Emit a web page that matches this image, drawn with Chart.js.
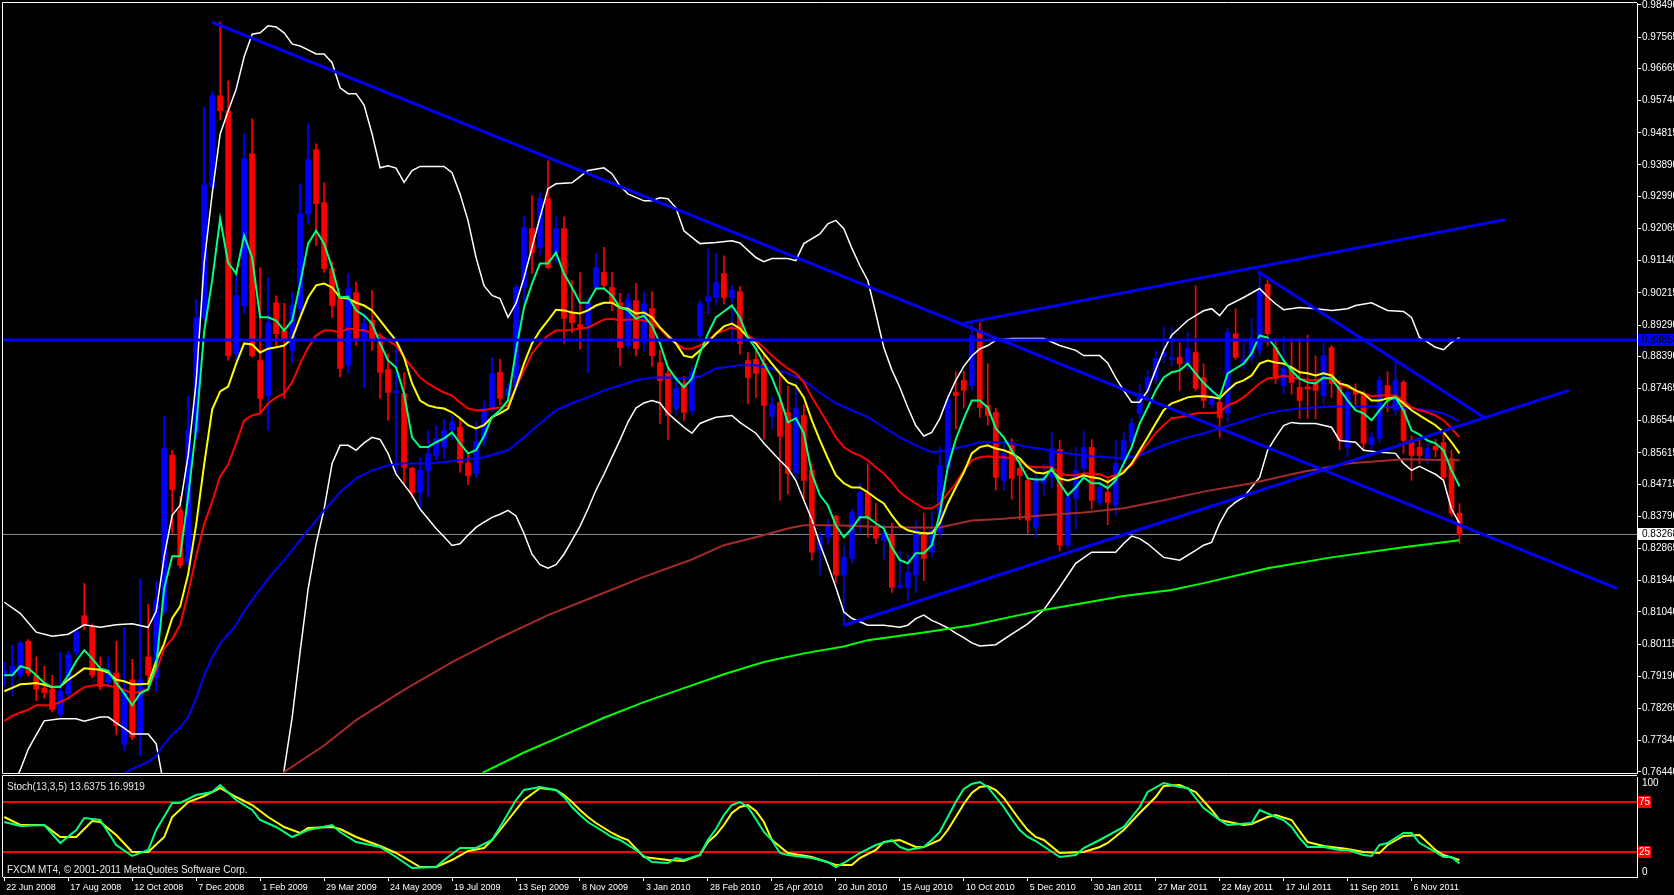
<!DOCTYPE html>
<html>
<head>
<meta charset="utf-8">
<script src="https://cdn.jsdelivr.net/npm/chart.js@4.4.1/dist/chart.umd.min.js"></script>
<style>
  html, body { margin: 0; padding: 0; background: #000; }
  #wrap { position: relative; width: 1674px; height: 895px; background: #000; overflow: hidden; }
  canvas { position: absolute; left: 0; }
  #main { top: 0; }
  #stoch { top: 775px; }
</style>
</head>
<body>
<div id="wrap">
  <canvas id="main" width="1674" height="775"></canvas>
  <canvas id="stoch" width="1674" height="120"></canvas>
</div>
<script>
// ---- weekly candles, bar 0 = 22 Jun 2008 ----
const opens = [.7920,.7922,.7922,.8020,.7922,.7885,.7882,.7810,.7869,.7988,
  .8093,.8060,.7942,.7902,.7928,.7724,.7909,.7751,.7975,.7915,
  .8106,.8555,.8396,.8245,.8620,.8950,.9326,.9588,.9545,.8847,
  .8985,.9421,.8827,.8726,.8993,.8913,.8856,.8976,.9249,.9433,
  .9281,.9091,.9008,.8813,.9022,.8890,.8942,.8893,.8801,.8734,
  .8732,.8517,.8448,.8511,.8554,.8578,.8626,.8635,.8533,.8502,
  .8600,.8692,.8793,.8726,.8750,.9037,.9206,.9152,.9292,.9137,
  .9206,.8962,.8930,.8928,.9037,.9080,.9037,.8993,.8870,.8999,
  .8879,.8976,.8821,.8790,.8689,.8761,.8683,.8899,.8996,.9008,
  .9077,.9008,.9025,.8827,.8830,.8818,.8666,.8707,.8678,.8505,
  .8669,.8511,.8281,.8319,.8379,.8210,.8258,.8376,.8445,.8350,
  .8310,.8325,.8175,.8175,.8210,.8333,.8276,.8333,.8520,.8735,
  .8770,.8755,.8913,.8698,.8678,.8482,.8583,.8517,.8482,.8347,
  .8474,.8491,.8571,.8296,.8431,.8517,.8577,.8419,.8448,.8411,
  .8540,.8592,.8675,.8741,.8775,.8840,.8830,.8836,.8818,.8850,
  .8778,.8701,.8707,.8675,.8904,.8819,.8836,.8856,.9046,.8864,
  .8755,.8807,.8750,.8752,.8761,.8726,.8864,.8755,.8577,.8740,
  .8732,.8586,.8603,.8755,.8684,.8764,.8597,.8577,.8548,.8580,
  .8591,.8545,.8388];
const highs = [.7960,.8008,.8020,.8025,.7975,.7948,.7922,.7988,.7990,.8055,
  .8186,.8070,.7975,.7975,.8020,.8060,.7968,.8199,.8126,.8192,
  .8667,.8568,.8436,.8726,.9003,.9556,.9600,.9800,.9631,.9075,
  .9478,.9522,.9094,.9065,.9013,.8991,.9022,.9335,.9507,.9450,
  .9338,.9110,.9010,.9077,.9053,.8962,.9028,.8905,.8847,.8864,
  .8792,.8520,.8548,.8626,.8640,.8658,.8667,.8660,.8562,.8650,
  .8710,.8836,.8830,.8760,.9045,.9243,.9301,.9310,.9401,.9240,
  .9240,.9057,.9080,.9008,.9135,.9152,.9080,.9020,.9020,.9049,
  .9025,.9025,.8856,.8810,.8780,.8781,.8810,.9000,.9148,.9135,
  .9128,.9043,.9040,.8850,.8856,.8847,.8722,.8792,.8753,.8764,
  .8700,.8530,.8333,.8370,.8382,.8296,.8399,.8474,.8531,.8416,
  .8356,.8360,.8281,.8270,.8367,.8388,.8390,.8580,.8730,.8795,
  .8797,.8936,.8936,.8818,.8690,.8586,.8603,.8540,.8491,.8520,
  .8530,.8620,.8597,.8440,.8580,.8623,.8600,.8480,.8490,.8597,
  .8620,.8660,.8760,.8798,.8856,.8922,.8922,.8879,.8908,.9042,
  .8818,.8750,.8720,.8920,.8976,.8880,.8950,.9085,.9060,.8890,
  .8896,.8890,.8890,.8900,.8840,.8880,.8870,.8770,.8750,.8760,
  .8740,.8620,.8780,.8795,.8821,.8770,.8610,.8600,.8590,.8600,
  .8620,.8570,.8416];
const lows = [.7890,.7863,.7915,.7920,.7849,.7856,.7816,.7803,.7860,.7980,
  .8054,.7915,.7880,.7895,.7751,.7704,.7737,.7691,.7876,.7876,
  .8100,.8331,.8230,.8240,.8600,.8940,.9300,.9520,.8827,.8827,
  .8962,.8837,.8675,.8626,.8870,.8718,.8821,.8960,.9220,.9157,
  .9080,.8950,.8780,.8790,.8870,.8749,.8856,.8718,.8655,.8502,
  .8474,.8432,.8402,.8434,.8540,.8547,.8600,.8505,.8470,.8490,
  .8580,.8680,.8700,.8710,.8740,.8985,.9077,.9130,.9090,.9110,
  .8877,.8907,.8860,.8792,.9030,.9030,.8970,.8813,.8860,.8840,
  .8853,.8810,.8646,.8600,.8670,.8655,.8670,.8880,.8960,.8985,
  .8990,.8879,.8845,.8703,.8720,.8600,.8630,.8425,.8443,.8490,
  .8425,.8253,.8210,.8300,.8190,.8066,.8245,.8333,.8319,.8300,
  .8253,.8160,.8170,.8137,.8160,.8194,.8260,.8320,.8500,.8630,
  .8690,.8740,.8663,.8640,.8454,.8454,.8428,.8369,.8330,.8320,
  .8440,.8460,.8280,.8287,.8340,.8500,.8400,.8410,.8355,.8380,
  .8520,.8570,.8660,.8720,.8760,.8820,.8810,.8741,.8800,.8740,
  .8690,.8690,.8606,.8650,.8830,.8800,.8820,.8840,.8870,.8760,
  .8730,.8730,.8660,.8660,.8660,.8700,.8720,.8570,.8550,.8700,
  .8570,.8570,.8590,.8680,.8670,.8560,.8482,.8530,.8530,.8550,
  .8480,.8380,.8302];
const closes = [.7935,.7948,.8014,.7928,.7882,.7872,.7823,.7876,.7981,.8047,
  .8067,.7922,.7889,.7935,.7777,.7876,.7744,.7909,.7922,.8139,
  .8574,.8456,.8238,.8627,.8950,.9332,.9588,.9545,.8841,.9014,
  .9407,.8841,.8718,.8936,.8904,.8884,.8985,.9249,.9404,.9278,
  .9091,.8985,.8804,.9034,.8884,.8933,.8884,.8793,.8735,.8740,
  .8520,.8448,.8511,.8560,.8603,.8626,.8650,.8533,.8496,.8594,
  .8689,.8790,.8718,.8747,.9037,.9209,.9137,.9292,.9094,.9206,
  .8948,.8936,.8922,.8993,.9094,.9043,.8993,.8864,.9004,.8861,
  .8990,.8841,.8769,.8669,.8747,.8678,.8793,.8990,.9010,.9051,
  .9008,.9030,.8876,.8778,.8790,.8698,.8701,.8609,.8502,.8689,
  .8482,.8276,.8319,.8353,.8210,.8261,.8390,.8448,.8373,.8316,
  .8330,.8175,.8181,.8218,.8339,.8258,.8339,.8525,.8715,.8726,
  .8741,.8899,.8692,.8669,.8491,.8560,.8488,.8497,.8368,.8482,
  .8491,.8574,.8296,.8434,.8511,.8577,.8425,.8462,.8419,.8531,
  .8597,.8646,.8732,.8778,.8833,.8850,.8836,.8818,.8861,.8747,
  .8712,.8721,.8663,.8907,.8836,.8830,.8890,.9031,.8904,.8775,
  .8804,.8764,.8712,.8745,.8741,.8841,.8761,.8597,.8735,.8730,
  .8589,.8606,.8770,.8721,.8770,.8597,.8554,.8554,.8574,.8570,
  .8491,.8388,.83268];

// ---- moving averages, one value per bar ----
const maFast = [.7922,.7922,.7948,.7942,.7922,.7900,.7888,.7888,.7922,.7963,
  .7994,.7970,.7942,.7935,.7900,.7870,.7836,.7870,.7882,.7948,
  .8172,.8264,.8264,.8436,.8635,.8910,.9057,.9235,.9108,.9077,
  .9186,.9123,.8951,.8951,.8942,.8913,.8942,.9048,.9163,.9200,
  .9163,.9094,.9008,.9011,.8971,.8956,.8933,.8876,.8827,.8807,
  .8732,.8606,.8578,.8578,.8592,.8603,.8620,.8589,.8560,.8569,
  .8610,.8664,.8684,.8712,.8856,.8979,.9048,.9106,.9106,.9137,
  .9077,.9037,.8993,.8993,.9034,.9034,.9014,.8979,.8971,.8947,
  .8956,.8927,.8876,.8807,.8775,.8750,.8775,.8847,.8904,.8951,
  .8968,.8985,.8951,.8893,.8861,.8818,.8778,.8720,.8649,.8661,
  .8618,.8502,.8440,.8411,.8353,.8319,.8344,.8376,.8376,.8359,
  .8344,.8290,.8253,.8244,.8273,.8273,.8296,.8388,.8520,.8600,
  .8660,.8712,.8712,.8692,.8632,.8606,.8569,.8531,.8488,.8485,
  .8485,.8517,.8474,.8440,.8462,.8491,.8474,.8474,.8460,.8482,
  .8531,.8578,.8646,.8692,.8741,.8778,.8793,.8798,.8818,.8790,
  .8762,.8741,.8721,.8790,.8804,.8818,.8847,.8899,.8893,.8864,
  .8827,.8798,.8775,.8764,.8761,.8778,.8775,.8744,.8712,.8684,
  .8675,.8655,.8684,.8712,.8721,.8684,.8626,.8614,.8597,.8589,
  .8569,.8511,.8465];
const maMid = [.7876,.7886,.7896,.7898,.7900,.7895,.7888,.7890,.7909,.7925,
  .7942,.7940,.7938,.7930,.7909,.7905,.7896,.7896,.7898,.7963,
  .8014,.8086,.8120,.8213,.8356,.8528,.8686,.8738,.8752,.8818,
  .8876,.8873,.8850,.8861,.8865,.8870,.8890,.8951,.9008,.9043,
  .9048,.9037,.9008,.9005,.8993,.8985,.8971,.8942,.8913,.8884,
  .8836,.8761,.8712,.8698,.8692,.8689,.8678,.8661,.8641,.8632,
  .8641,.8664,.8675,.8689,.8750,.8818,.8876,.8913,.8942,.8973,
  .8971,.8965,.8962,.8971,.8985,.8993,.8993,.8979,.8976,.8962,
  .8965,.8951,.8922,.8899,.8876,.8841,.8836,.8856,.8879,.8904,
  .8925,.8933,.8919,.8893,.8876,.8847,.8818,.8790,.8764,.8755,
  .8721,.8655,.8598,.8546,.8497,.8474,.8462,.8462,.8448,.8431,
  .8416,.8382,.8353,.8339,.8333,.8330,.8330,.8359,.8416,.8462,
  .8505,.8560,.8578,.8583,.8574,.8569,.8560,.8546,.8520,.8505,
  .8502,.8511,.8488,.8482,.8488,.8497,.8491,.8488,.8477,.8491,
  .8505,.8531,.8569,.8606,.8646,.8684,.8704,.8712,.8721,.8724,
  .8724,.8722,.8718,.8741,.8761,.8770,.8784,.8818,.8827,.8821,
  .8818,.8807,.8793,.8790,.8784,.8790,.8784,.8761,.8755,.8741,
  .8732,.8712,.8712,.8718,.8721,.8704,.8684,.8669,.8655,.8641,
  .8621,.8592,.8560];
const maSlow = [.7791,.7805,.7815,.7823,.7836,.7836,.7836,.7845,.7856,.7872,
  .7888,.7892,.7896,.7892,.7888,.7880,.7870,.7875,.7882,.7934,
  .8000,.8026,.8067,.8159,.8264,.8356,.8422,.8494,.8528,.8589,
  .8655,.8669,.8675,.8704,.8721,.8732,.8764,.8818,.8864,.8899,
  .8913,.8913,.8907,.8919,.8916,.8913,.8907,.8899,.8884,.8870,
  .8836,.8807,.8778,.8761,.8747,.8735,.8726,.8706,.8689,.8684,
  .8684,.8689,.8692,.8698,.8750,.8798,.8847,.8876,.8899,.8913,
  .8913,.8915,.8919,.8922,.8933,.8945,.8947,.8942,.8945,.8945,
  .8942,.8936,.8919,.8893,.8876,.8861,.8861,.8870,.8884,.8904,
  .8913,.8922,.8913,.8899,.8884,.8864,.8841,.8821,.8804,.8790,
  .8764,.8721,.8684,.8646,.8606,.8578,.8563,.8554,.8540,.8520,
  .8502,.8477,.8448,.8431,.8416,.8402,.8402,.8416,.8445,.8474,
  .8510,.8540,.8549,.8552,.8549,.8549,.8546,.8537,.8523,.8520,
  .8520,.8520,.8502,.8497,.8497,.8502,.8502,.8500,.8491,.8497,
  .8511,.8526,.8560,.8589,.8618,.8641,.8661,.8664,.8669,.8675,
  .8676,.8676,.8678,.8698,.8707,.8721,.8741,.8761,.8775,.8778,
  .8784,.8778,.8775,.8770,.8770,.8775,.8775,.8761,.8750,.8741,
  .8732,.8724,.8726,.8726,.8726,.8712,.8692,.8684,.8678,.8669,
  .8655,.8632,.8606];

// ---- slower lines read at selected bars: [bar, price] ----
const maBlue = [[12,.7600],[16,.7653],[18,.7673],[19,.7690],[20,.7725],[21,.7751],[22,.7771],
  [23,.7802],[24,.7856],[25,.7922],[26,.7974],[27,.8014],[28,.8040],[29,.8067],[30,.8106],
  [31,.8138],[33,.8200],[35,.8253],[38,.8339],[40,.8396],[42,.8448],[44,.8488],[46,.8511],
  [48,.8526],[50,.8531],[53,.8531],[56,.8537],[60,.8549],[63,.8569],[65,.8606],[67,.8646],
  [69,.8684],[71,.8704],[73,.8721],[75,.8741],[77,.8755],[79,.8770],[81,.8778],[83,.8778],
  [85,.8775],[87,.8780],[89,.8804],[92,.8813],[94,.8813],[96,.8804],[98,.8790],[100,.8770],
  [102,.8735],[104,.8704],[106,.8684],[108,.8664],[110,.8635],[112,.8606],[114,.8583],
  [116,.8563],[118,.8569],[120,.8580],[122,.8592],[124,.8592],[126,.8589],[128,.8578],
  [130,.8572],[132,.8563],[134,.8557],[136,.8552],[138,.8549],[140,.8546],[142,.8554],
  [144,.8574],[146,.8592],[148,.8606],[150,.8618],[152,.8632],[154,.8646],[156,.8661],
  [158,.8675],[160,.8684],[162,.8689],[164,.8692],[166,.8695],[172,.8695],[174,.8692],
  [176,.8689],[178,.8684],[180,.8675],[182,.8652]];
const maBrown = [[34,.7600],[35,.7644],[40,.7720],[44,.7793],[50,.7880],[56,.7960],[62,.8030],
  [68,.8095],[74,.8150],[80,.8205],[86,.8255],[90,.8296],[94,.8319],[98,.8344],[100,.8353],
  [104,.8353],[108,.8350],[113,.8347],[117,.8347],[121,.8367],[125,.8372],[130,.8382],
  [135,.8390],[140,.8402],[145,.8425],[150,.8450],[156,.8474],[162,.8505],[168,.8531],
  [175,.8543],[182,.8540]];
const maLong = [[59,.7620],[60,.7644],[65,.7700],[70,.7750],[75,.7800],[80,.7845],[85,.7885],
  [90,.7925],[95,.7960],[100,.7985],[105,.8005],[108,.8023],[115,.8045],[121,.8066],
  [130,.8110],[140,.8150],[146,.8167],[150,.8187],[158,.8230],[166,.8261],[175,.8290],
  [182,.8310]];
const bandUpper = [[0,.8132],[2,.8100],[4,.8046],[6,.8034],[8,.8040],[10,.8067],[12,.8060],
  [14,.8067],[16,.8070],[18,.8060],[19,.8106],[20,.8264],[21,.8382],[22,.8411],[23,.8554],
  [24,.8766],[25,.9108],[26,.9306],[27,.9478],[28,.9544],[29,.9607],[30,.9700],[31,.9765],
  [32,.9769],[33,.9789],[34,.9786],[35,.9769],[36,.9737],[37,.9731],[38,.9720],[39,.9708],
  [40,.9708],[41,.9683],[42,.9611],[43,.9594],[44,.9594],[45,.9561],[46,.9478],[47,.9381],
  [48,.9387],[49,.9380],[50,.9339],[51,.9373],[52,.9385],[55,.9385],[56,.9367],[57,.9306],
  [58,.9229],[59,.9123],[60,.9042],[61,.9014],[62,.9005],[63,.8951],[64,.8991],[65,.9065],
  [66,.9152],[67,.9238],[68,.9321],[69,.9335],[71,.9338],[73,.9373],[75,.9381],[76,.9364],
  [77,.9329],[78,.9306],[80,.9286],[81,.9286],[82,.9295],[83,.9292],[84,.9266],[85,.9200],
  [87,.9163],[89,.9166],[91,.9171],[92,.9165],[94,.9123],[95,.9111],[96,.9120],[98,.9120],
  [99,.9114],[100,.9163],[102,.9191],[103,.9220],[104,.9230],[105,.9206],[106,.9150],
  [107,.9100],[108,.9057],[109,.8962],[110,.8864],[111,.8800],[112,.8750],[113,.8692],
  [114,.8640],[115,.8610],[116,.8620],[117,.8660],[118,.8720],[119,.8770],[120,.8810],
  [121,.8840],[122,.8860],[123,.8870],[124,.8885],[126,.8890],[130,.8890],[132,.8870],
  [134,.8856],[135,.8841],[137,.8841],[138,.8820],[139,.8778],[140,.8741],[141,.8707],
  [142,.8707],[143,.8740],[144,.8800],[145,.8856],[146,.8900],[148,.8942],[150,.8970],
  [151,.8976],[152,.8956],[153,.8985],[155,.9008],[157,.9034],[158,.9010],[159,.8990],
  [160,.8973],[162,.8979],[164,.8976],[166,.8971],[168,.8976],[169,.8985],[171,.8993],
  [173,.8971],[175,.8968],[176,.8951],[177,.8893],[178,.8880],[179,.8865],[180,.8858],
  [181,.8879],[182,.8893]];
const bandLower = [[1,.7600],[2,.7650],[3,.7710],[4,.7751],[5,.7791],[7,.7797],[9,.7797],
  [10,.7790],[12,.7802],[13,.7802],[14,.7785],[15,.7770],[16,.7753],[18,.7753],[19,.7725],
  [20,.7600],[22,.7400],[25,.7100],[28,.6900],[31,.7000],[33,.7300],[35,.7650],[36,.7800],
  [37,.7990],[38,.8170],[39,.8300],[40,.8400],[41,.8531],[42,.8583],[43,.8583],[44,.8569],
  [45,.8590],[46,.8606],[47,.8600],[48,.8560],[49,.8500],[50,.8470],[51,.8440],[52,.8400],
  [54,.8344],[55,.8320],[56,.8295],[57,.8300],[58,.8325],[59,.8347],[60,.8362],[61,.8376],
  [62,.8385],[63,.8396],[64,.8380],[65,.8330],[66,.8270],[67,.8240],[68,.8230],[69,.8240],
  [70,.8270],[71,.8310],[72,.8350],[73,.8400],[74,.8454],[75,.8500],[76,.8549],[77,.8598],
  [78,.8650],[79,.8690],[80,.8705],[81,.8712],[82,.8705],[83,.8675],[84,.8655],[85,.8635],
  [86,.8618],[87,.8646],[88,.8655],[89,.8664],[91,.8669],[92,.8649],[94,.8618],[95,.8589],
  [97,.8540],[98,.8517],[99,.8482],[100,.8425],[101,.8370],[102,.8300],[103,.8240],
  [104,.8175],[105,.8104],[106,.8086],[108,.8066],[110,.8066],[112,.8060],[113,.8066],
  [114,.8085],[115,.8095],[116,.8080],[117,.8070],[118,.8058],[119,.8043],[120,.8030],
  [121,.8015],[122,.8006],[124,.8010],[126,.8040],[128,.8070],[130,.8110],[132,.8175],
  [134,.8244],[136,.8276],[139,.8276],[140,.8301],[141,.8322],[142,.8315],[143,.8300],
  [145,.8261],[147,.8253],[149,.8281],[150,.8296],[151,.8304],[152,.8359],[153,.8400],
  [154,.8420],[155,.8434],[157,.8491],[158,.8569],[159,.8606],[160,.8640],[161,.8649],
  [162,.8646],[164,.8646],[166,.8635],[167,.8597],[169,.8592],[170,.8569],[172,.8563],
  [174,.8560],[175,.8531],[176,.8511],[177,.8523],[178,.8511],[179,.8500],[180,.8482],
  [181,.8400],[182,.8359]];

// trend lines: [bar1, price1, bar2, price2]
const trendLines = [
  [26, .9800, 201.7, .8172],
  [105, .8066, 195.7, .8741],
  [119.8, .8933, 187.7, .9232],
  [156.8, .9082, 185.1, .8663]
];
const levelLine = 0.88858;

// axis ticks
const priceTicks = [.98490,.97565,.96665,.95740,.94815,.93890,.92990,.92065,.91140,.90215,
  .89290,.88390,.87465,.86540,.85615,.84715,.83790,.82865,.81940,.81040,.80115,.79190,
  .78265,.77340,.76440];
const dateBars = [0,8,16,24,32,40,48,56,64,72,80,88,96,104,112,120,128,136,144,152,160,168,176];
const dateLabels = ['22 Jun 2008','17 Aug 2008','12 Oct 2008','7 Dec 2008','1 Feb 2009',
  '29 Mar 2009','24 May 2009','19 Jul 2009','13 Sep 2009','8 Nov 2009','3 Jan 2010',
  '28 Feb 2010','25 Apr 2010','20 Jun 2010','15 Aug 2010','10 Oct 2010','5 Dec 2010',
  '30 Jan 2011','27 Mar 2011','22 May 2011','17 Jul 2011','11 Sep 2011','6 Nov 2011'];

// stochastic (13,3,5): [bar, value]
const stochK = [[0,55],[2,51],[5,52],[7,34],[9,47],[10,59],[12,57],[14,32],[16,21],[18,27],
  [19,47],[21,74],[22,74],[24,82],[26,85],[27,92],[29,77],[31,67],[32,57],[34,50],[36,40],
  [38,47],[41,52],[42,45],[44,35],[47,30],[49,20],[51,9],[54,10],[55,17],[57,29],[59,29],
  [61,37],[62,50],[64,77],[65,87],[67,90],[69,87],[70,80],[71,70],[72,62],[73,55],[74,50],
  [75,45],[76,40],[77,37],[79,27],[81,15],[83,14],[84,19],[85,17],[87,22],[88,37],[89,48],
  [90,62],[91,72],[92,75],[93,70],[94,58],[95,45],[96,37],[97,24],[98,22],[101,19],[103,15],
  [104,10],[105,14],[107,24],[109,32],[111,37],[112,30],[113,27],[115,30],[116,37],[117,45],
  [118,60],[119,75],[120,88],[121,93],[122,95],[123,90],[124,80],[125,70],[126,58],[127,47],
  [128,40],[129,36],[132,20],[134,22],[135,29],[137,37],[140,50],[142,70],[143,85],[145,94],
  [147,90],[148,89],[150,69],[152,57],[153,52],[156,54],[157,67],[159,60],[160,57],[161,50],
  [162,39],[163,30],[165,30],[167,27],[168,27],[170,22],[171,21],[172,32],[173,34],[175,44],
  [176,44],[177,34],[179,25],[180,20],[181,20],[182,13.6375]];
const stochD = [[0,60],[2,52],[5,52],[7,40],[9,40],[11,56],[12,55],[14,42],[16,25],[18,25],
  [20,40],[21,60],[23,75],[25,81],[27,89],[29,80],[31,72],[33,60],[35,50],[37,44],[38,49],
  [41,50],[42,48],[44,40],[47,31],[49,24],[52,10],[54,10],[56,17],[58,26],[60,29],[61,37],
  [63,57],[65,77],[67,89],[69,87],[70,82],[71,75],[72,67],[73,60],[74,54],[75,49],[76,44],
  [77,40],[78,37],[80,20],[83,17],[85,16],[87,22],[88,35],[89,42],[90,52],[91,64],[92,70],
  [93,72],[94,66],[95,55],[96,37],[98,24],[101,20],[104,12],[106,12],[107,19],[109,27],
  [110,35],[112,37],[114,30],[115,30],[117,37],[118,47],[119,60],[120,73],[121,84],[122,90],
  [123,91],[124,87],[125,79],[126,68],[127,57],[128,47],[129,40],[130,37],[132,24],[135,25],
  [137,30],[138,34],[140,47],[142,64],[144,80],[145,91],[147,92],[149,85],[151,67],[152,57],
  [155,52],[156,53],[158,60],[159,62],[161,57],[163,35],[165,31],[168,28],[170,25],[172,24],
  [173,32],[175,41],[177,42],[179,27],[180,22],[182,16.9919]];
const stochLevels = [25, 75];

// ---- helpers ----
Chart.defaults.font.family = "'Liberation Sans', Arial, sans-serif";
Chart.defaults.font.size = 10;

const xMin = -0.16, xMax = 204.2;
const yMin = 0.76411, yMax = 0.98547;
const axisW = 37;
const lastPrice = closes[closes.length - 1];

const perBar = arr => arr.map((v, i) => ({ x: i, y: v }));
const fromPairs = arr => arr.map(([x, y]) => ({ x, y }));
const candleColor = c => closes[c.dataIndex] >= opens[c.dataIndex] ? '#0000ff' : '#ff0000';

function line(data, color, width, order) {
  return { type: 'line', data, borderColor: color, borderWidth: width, pointRadius: 0,
           tension: 0, fill: false, order };
}

const mainDecor = {
  id: 'mainDecor',
  afterDraw(chart) {
    const { ctx, chartArea: a, scales: { y } } = chart;
    ctx.save();
    ctx.strokeStyle = '#ffffff';
    ctx.lineWidth = 1;
    ctx.beginPath();
    ctx.moveTo(a.left - 0.5, a.bottom + 0.5);
    ctx.lineTo(a.left - 0.5, a.top - 0.5);
    ctx.lineTo(a.right, a.top - 0.5);
    ctx.moveTo(a.left - 0.5, a.bottom + 0.5);
    ctx.lineTo(a.right, a.bottom + 0.5);
    ctx.stroke();

    ctx.font = "10px 'Liberation Sans', Arial, sans-serif";
    ctx.textBaseline = 'middle';
    const tag = (v, bg, fg) => {
      const py = Math.round(y.getPixelForValue(v));
      ctx.fillStyle = bg;
      ctx.fillRect(a.right + 1, py - 6, chart.width - a.right - 1, 12);
      ctx.fillStyle = fg;
      ctx.fillText(v.toFixed(5), a.right + 5, py);
    };
    tag(levelLine, '#0000ff', '#000000');
    tag(lastPrice, '#ffffff', '#000000');
    ctx.restore();
  }
};

const stochDecor = {
  id: 'stochDecor',
  afterDraw(chart) {
    const { ctx, chartArea: a, scales: { y } } = chart;
    ctx.save();
    ctx.strokeStyle = '#ffffff';
    ctx.lineWidth = 1;
    ctx.beginPath();
    ctx.moveTo(a.left - 0.5, a.bottom);
    ctx.lineTo(a.left - 0.5, a.top - 1.5);
    ctx.lineTo(a.right, a.top - 1.5);
    ctx.stroke();

    ctx.font = "10px 'Liberation Sans', Arial, sans-serif";
    ctx.textBaseline = 'middle';
    ctx.fillStyle = '#e8e8e8';
    const k = stochK[stochK.length - 1][1], d = stochD[stochD.length - 1][1];
    ctx.fillText('Stoch(13,3,5) ' + k.toFixed(4) + ' ' + d.toFixed(4), 7, a.top + 10);
    ctx.fillText('FXCM MT4, \u00a9 2001-2011 MetaQuotes Software Corp.', 7, a.bottom - 7);

    ctx.fillStyle = '#ffffff';
    ctx.fillText('100', a.right + 5, y.getPixelForValue(100) + 6);
    ctx.fillText('0', a.right + 5, y.getPixelForValue(0) - 5);
    ctx.restore();
  }
};

// ---- main price chart ----
const datasets = [];
trendLines.forEach(t => {
  datasets.push(line([{ x: t[0], y: t[1] }, { x: t[2], y: t[3] }], '#0000ff', 3, 0));
});
datasets.push(line([{ x: xMin, y: levelLine }, { x: xMax, y: levelLine }], '#0000ff', 3, 0));
datasets.push(line(perBar(maFast), '#00ff7f', 2, 1));
datasets.push(line(perBar(maMid), '#ffff00', 2, 2));
datasets.push(line(perBar(maSlow), '#ff0000', 2, 3));
datasets.push(line(fromPairs(maBlue), '#0000ff', 2, 4));
datasets.push(line(fromPairs(maBrown), '#a52a2a', 2, 4));
datasets.push(line(fromPairs(maLong), '#00ff00', 2, 4));
datasets.push(line(fromPairs(bandUpper), '#ffffff', 1.5, 5));
datasets.push(line(fromPairs(bandLower), '#ffffff', 1.5, 5));
datasets.push({
  type: 'bar', order: 8, grouped: false, maxBarThickness: 5, minBarLength: 1,
  barPercentage: 1, categoryPercentage: 1,
  data: opens.map((o, i) => ({ x: i, y: [o, closes[i]] })),
  backgroundColor: candleColor
});
datasets.push({
  type: 'bar', order: 9, grouped: false, maxBarThickness: 1,
  barPercentage: 1, categoryPercentage: 1,
  data: lows.map((l, i) => ({ x: i, y: [l, highs[i]] })),
  backgroundColor: candleColor
});
datasets.push(line([{ x: xMin, y: lastPrice }, { x: xMax, y: lastPrice }], '#7f8c99', 1, 10));

new Chart(document.getElementById('main'), {
  type: 'bar',
  data: { datasets },
  options: {
    responsive: false, animation: false, devicePixelRatio: 1, events: [],
    layout: { padding: { left: 3, top: 3, right: 0, bottom: 2 } },
    plugins: { legend: { display: false }, tooltip: { enabled: false } },
    scales: {
      x: { type: 'linear', min: xMin, max: xMax, offset: false, display: false },
      y: {
        type: 'linear', position: 'right', min: yMin, max: yMax,
        afterBuildTicks: s => { s.ticks = priceTicks.map(v => ({ value: v })); },
        afterFit: s => { s.width = axisW; s.paddingTop = 0; s.paddingBottom = 0; },
        ticks: { color: '#ffffff', padding: 1, autoSkip: false, callback: v => Number(v).toFixed(5) },
        grid: { drawOnChartArea: false, drawTicks: true, tickLength: 4, color: '#ffffff' },
        border: { color: '#ffffff' }
      }
    }
  },
  plugins: [mainDecor]
});

// ---- stochastic window ----
new Chart(document.getElementById('stoch'), {
  type: 'line',
  data: {
    datasets: [
      line(fromPairs(stochK), '#00ff7f', 2, 0),
      line(fromPairs(stochD), '#ffff00', 2, 1),
      ...stochLevels.map(v => line([{ x: xMin, y: v }, { x: xMax, y: v }], '#ff0000', 2, 2))
    ]
  },
  options: {
    responsive: false, animation: false, devicePixelRatio: 1, events: [],
    layout: { padding: { left: 3, top: 2, right: 0, bottom: 0 } },
    plugins: { legend: { display: false }, tooltip: { enabled: false } },
    scales: {
      x: {
        type: 'linear', min: xMin, max: xMax,
        afterBuildTicks: s => { s.ticks = dateBars.map(v => ({ value: v })); },
        afterFit: s => { s.height = 18; s.paddingLeft = 0; s.paddingRight = 0; },
        ticks: { color: '#ffffff', align: 'start', maxRotation: 0, autoSkip: false, padding: 1,
                 labelOffset: 2, font: { size: 9 },
                 callback: v => dateLabels[dateBars.indexOf(v)] },
        grid: { drawOnChartArea: false, drawTicks: true, tickLength: 4, color: '#ffffff' },
        border: { color: '#ffffff' }
      },
      y: {
        type: 'linear', position: 'right', min: 0, max: 100,
        afterBuildTicks: s => { s.ticks = stochLevels.map(v => ({ value: v })); },
        afterFit: s => { s.width = axisW; s.paddingTop = 0; s.paddingBottom = 0; },
        ticks: { color: '#ffffff', padding: 2, showLabelBackdrop: true, backdropColor: '#ff0000',
                 backdropPadding: { x: 1, y: 0 } },
        grid: { drawOnChartArea: false, drawTicks: false, color: '#ffffff' },
        border: { color: '#ffffff' }
      }
    }
  },
  plugins: [stochDecor]
});
</script>
</body>
</html>
